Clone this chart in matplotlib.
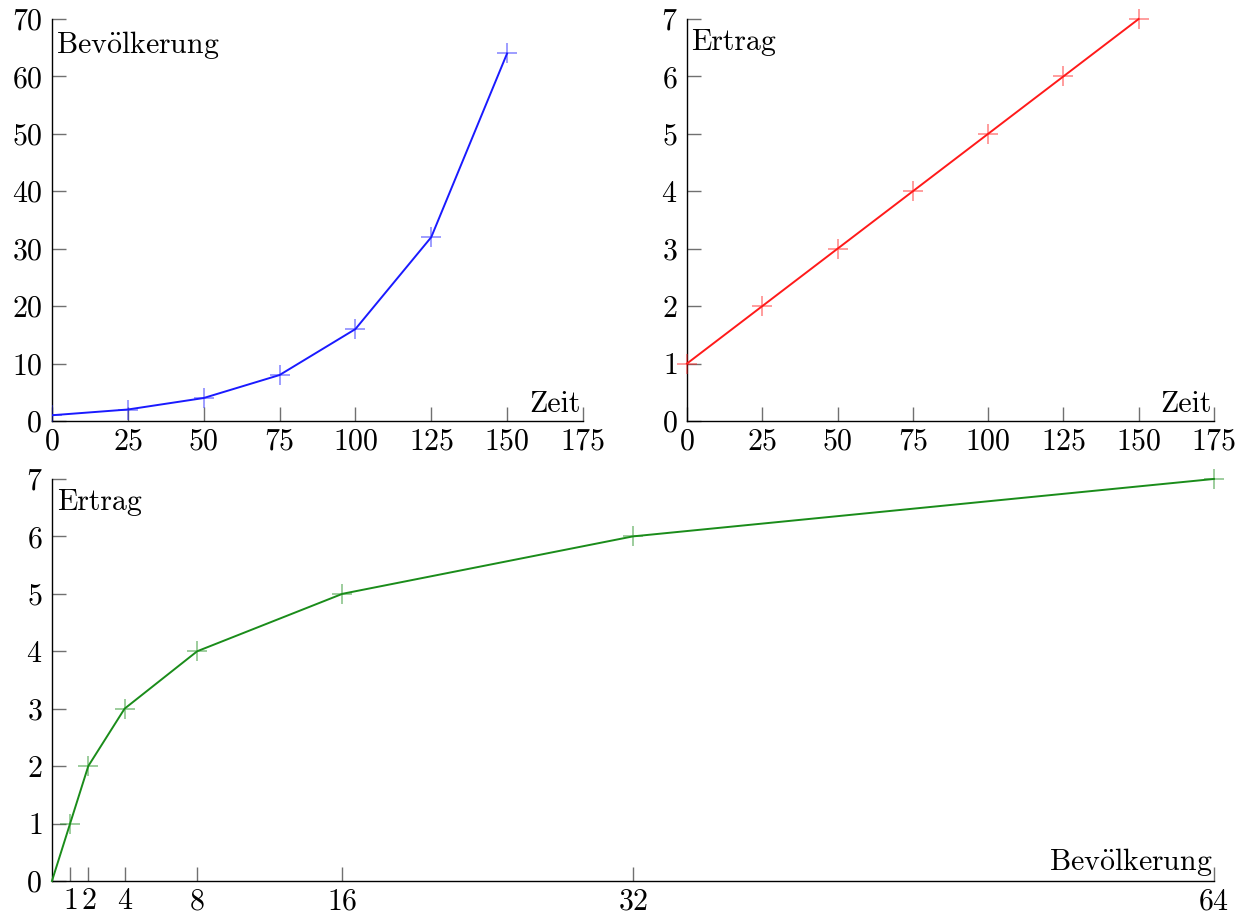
import matplotlib.pyplot as plt
from matplotlib.ticker import FixedLocator

plt.rcParams['font.family'] = ['cmr10', 'DejaVu Serif']
plt.rcParams['mathtext.fontset'] = 'cm'
plt.rcParams['axes.formatter.use_mathtext'] = True

# data
zeit = [0, 25, 50, 75, 100, 125, 150]
bevoelkerung = [1, 2, 4, 8, 16, 32, 64]
ertrag = [1, 2, 3, 4, 5, 6, 7]
bev_x = [0, 1, 2, 4, 8, 16, 32, 64]
ertrag_y = [0, 1, 2, 3, 4, 5, 6, 7]

zeit_ticks = [0, 25, 50, 75, 100, 125, 150, 175]
bev_ticks = [0, 10, 20, 30, 40, 50, 60, 70]
ertrag_ticks = [0, 1, 2, 3, 4, 5, 6, 7]
bev_x_ticks = [1, 2, 4, 8, 16, 32, 64]

BEV = r'Bev$\ddot{\mathrm{o}}$lkerung'
FS = 21.5


def style_axis(ax):
    for s in ['top', 'right']:
        ax.spines[s].set_visible(False)
    for s in ['left', 'bottom']:
        ax.spines[s].set_linewidth(1.0)
    ax.tick_params(direction='in', length=10, width=1.0, color='#707070',
                   labelsize=FS)
    ax.tick_params(axis='y', pad=7)
    ax.tick_params(axis='x', pad=5)


def draw(ax, x, y, color, clip=False, markevery=None):
    ax.plot(x, y, color=color, lw=1.4, clip_on=clip, zorder=3)
    ax.plot(x, y, ls='none', marker='+', ms=14, mew=1.2, color=color,
            alpha=0.5, clip_on=clip, markevery=markevery, zorder=3)


fig = plt.figure(figsize=(12.4, 9.17), dpi=100)

# top left
ax1 = fig.add_axes([0.0419, 0.5409, 0.4282, 0.4384])
draw(ax1, zeit, bevoelkerung, '#1a1aff', clip=True)
ax1.set_xlim(0, 175)
ax1.set_ylim(0, 70)
ax1.xaxis.set_major_locator(FixedLocator(zeit_ticks))
ax1.yaxis.set_major_locator(FixedLocator(bev_ticks))
style_axis(ax1)
ax1.text(0.008, 0.975, BEV, transform=ax1.transAxes,
         ha='left', va='top', fontsize=FS)
ax1.text(0.995, 0.008, 'Zeit', transform=ax1.transAxes,
         ha='right', va='bottom', fontsize=FS)

# top right
ax2 = fig.add_axes([0.554, 0.5409, 0.425, 0.4384])
draw(ax2, zeit, ertrag, '#ff1a1a')
ax2.set_xlim(0, 175)
ax2.set_ylim(0, 7)
ax2.xaxis.set_major_locator(FixedLocator(zeit_ticks))
ax2.yaxis.set_major_locator(FixedLocator(ertrag_ticks))
style_axis(ax2)
ax2.text(0.008, 0.975, 'Ertrag', transform=ax2.transAxes,
         ha='left', va='top', fontsize=FS)
ax2.text(0.995, 0.008, 'Zeit', transform=ax2.transAxes,
         ha='right', va='bottom', fontsize=FS)

# bottom
ax3 = fig.add_axes([0.0419, 0.0393, 0.9371, 0.4384])
draw(ax3, bev_x, ertrag_y, '#1a8c1a', markevery=list(range(1, len(bev_x))))
ax3.set_xlim(0, 64)
ax3.set_ylim(0, 7)
ax3.xaxis.set_major_locator(FixedLocator(bev_x_ticks))
ax3.yaxis.set_major_locator(FixedLocator(ertrag_ticks))
style_axis(ax3)
ax3.text(0.004, 0.975, 'Ertrag', transform=ax3.transAxes,
         ha='left', va='top', fontsize=FS)
ax3.text(0.999, 0.008, BEV, transform=ax3.transAxes,
         ha='right', va='bottom', fontsize=FS)

fig.savefig('out.png', dpi=100)
